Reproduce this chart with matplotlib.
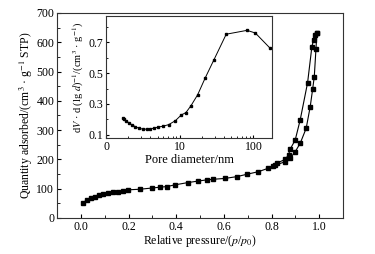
import matplotlib
matplotlib.use("Agg")
import matplotlib.pyplot as plt
from matplotlib.ticker import MultipleLocator, FixedLocator, FixedFormatter, LogLocator, NullFormatter

plt.rcParams['font.family'] = ['Liberation Serif', 'DejaVu Serif']
plt.rcParams['mathtext.fontset'] = 'stix'
plt.rcParams['font.size'] = 8.5

# Adsorption branch
ads_p = [0.007, 0.024, 0.041, 0.059, 0.077, 0.094, 0.115, 0.136, 0.157, 0.178, 0.199,
         0.248, 0.297, 0.332, 0.360, 0.395, 0.451, 0.493, 0.528, 0.556, 0.605, 0.654,
         0.696, 0.745, 0.787, 0.815, 0.857, 0.878, 0.899, 0.920, 0.945, 0.962, 0.972,
         0.979, 0.986, 0.990]
ads_q = [50, 61, 67, 73, 79, 82, 84, 88, 90, 93, 96,
         98, 102, 105, 107, 113, 121, 126, 130, 132, 135, 141,
         149, 158, 170, 180, 192, 204, 226, 255, 306, 380, 439,
         482, 576, 630]

# Desorption branch
des_p = [0.990, 0.983, 0.976, 0.969, 0.951, 0.920, 0.899, 0.878, 0.871, 0.857, 0.822, 0.805]
des_q = [630, 625, 608, 585, 462, 335, 266, 235, 215, 200, 187, 176]

# Pore size distribution (inset)
pore_d = [1.67, 1.77, 1.86, 2.02, 2.22, 2.47, 2.77, 3.15, 3.57, 3.96, 4.45, 5.05, 5.91,
          7.07, 8.73, 10.5, 12.1, 14.2, 17.5, 22.2, 29.2, 42.7, 81.8, 106, 167]
pore_v = [0.208, 0.201, 0.192, 0.179, 0.166, 0.154, 0.143, 0.137, 0.137, 0.139, 0.143,
          0.150, 0.156, 0.166, 0.192, 0.229, 0.244, 0.289, 0.360, 0.470, 0.588, 0.752,
          0.777, 0.760, 0.663]

fig = plt.figure(figsize=(3.75, 2.54), dpi=100)
ax = fig.add_axes([0.152, 0.142, 0.763, 0.807])

ax.plot(ads_p, ads_q, '-', color='black', lw=0.8, marker='s', ms=3.5)
ax.plot(des_p, des_q, '-', color='black', lw=0.8, marker='s', ms=3.5)

ax.set_xlim(-0.1, 1.1)
ax.set_ylim(0, 700)
ax.xaxis.set_major_locator(MultipleLocator(0.2))
ax.xaxis.set_minor_locator(MultipleLocator(0.1))
ax.yaxis.set_major_locator(MultipleLocator(100))
ax.yaxis.set_minor_locator(MultipleLocator(50))
ax.xaxis.set_major_formatter(plt.FuncFormatter(lambda v, _: f"{v:.1f}"))
ax.tick_params(which='both', direction='in', top=False, right=False, labelsize=8.5, pad=2)
ax.tick_params(which='major', length=3)
ax.tick_params(which='minor', length=2)
ax.set_xlabel('Relative pressure/($p$/$p_0$)', fontsize=8.5, labelpad=0)
ax.set_ylabel('Quantity adsorbed/(cm$^3$ · g$^{-1}$ STP)', fontsize=8.5, labelpad=1)
for s in ax.spines.values():
    s.set_color('#333333')
    s.set_linewidth(0.8)

ins = fig.add_axes([0.283, 0.457, 0.443, 0.480])
ins.plot(pore_d, pore_v, '-', color='black', lw=0.7, marker='s', ms=1.5)
ins.set_xscale('log')
ins.set_xlim(1, 180)
ins.set_ylim(0.08, 0.87)
ins.xaxis.set_major_locator(FixedLocator([1, 10, 100]))
ins.xaxis.set_major_formatter(FixedFormatter(['0', '10', '100']))
ins.xaxis.set_minor_locator(LogLocator(base=10, subs=range(2, 10)))
ins.xaxis.set_minor_formatter(NullFormatter())
ins.yaxis.set_major_locator(FixedLocator([0.1, 0.3, 0.5, 0.7]))
ins.yaxis.set_minor_locator(FixedLocator([0.2, 0.4, 0.6, 0.8]))
ins.yaxis.set_major_formatter(plt.FuncFormatter(lambda v, _: f"{v:.1f}"))
ins.tick_params(which='both', direction='in', top=False, right=False, labelsize=8.5, pad=2)
ins.tick_params(which='major', length=2.5)
ins.tick_params(which='minor', length=1.5)
ins.set_xlabel('Pore diameter/nm', fontsize=9, labelpad=1)
ins.set_ylabel('d$V$ · d (lg $d$)$^{-1}$/(cm$^3$ · g$^{-1}$)', fontsize=7.5, labelpad=2)
for s in ins.spines.values():
    s.set_color('#333333')
    s.set_linewidth(0.8)

fig.savefig('out.png', dpi=100)
